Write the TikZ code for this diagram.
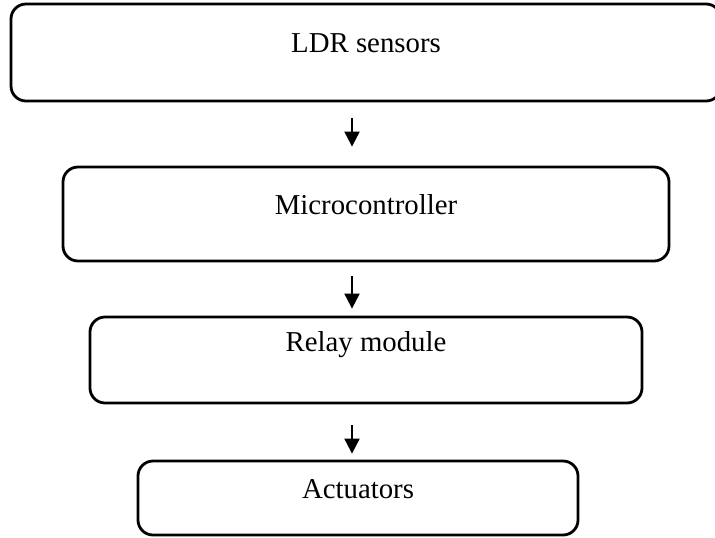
\documentclass[tikz,border=0pt]{standalone}
\usepackage{fontspec}
\setmainfont{Liberation Serif}
\usetikzlibrary{positioning}
\usetikzlibrary{arrows.meta}
\tikzstyle{block} = [rectangle, rounded corners=7.5pt, line width=1.4pt, text centered, draw=black, font=\fontsize{14.4}{17}\selectfont, text height=10pt, text depth=10pt]
\tikzstyle{arrow} = [line width=1pt,-{Triangle[width=7.5pt,length=7.5pt]}]

\begin{document}
\begin{tikzpicture}
    \useasboundingbox (0,0) rectangle (357.5pt,-268.5pt);

    % Nodes
    \node (ldr) [block, minimum width=355pt, minimum height=48.5pt] at (183pt,-26.25pt) {LDR sensors};
    \node (micro) [block, minimum width=303pt, minimum height=47pt, below=31.6pt of ldr] {Microcontroller};
    \node (relay) [block, minimum width=276pt, minimum height=43pt, text depth=19pt, below=26.6pt of micro] {Relay module};
    \node (act) [block, minimum width=220pt, minimum height=37pt, below=27.6pt of relay, xshift=-4pt] {Actuators};
    \coordinate (ax) at (176pt,0);

    % Arrows
    \draw [arrow, shorten <=8pt, shorten >=9.5pt] (ldr.south -| ax) -- (micro.north -| ax);
    \draw [arrow, shorten <=7pt, shorten >=3.5pt] (micro.south -| ax) -- (relay.north -| ax);
    \draw [arrow, shorten <=10.5pt, shorten >=3pt] (relay.south -| ax) -- (act.north -| ax);

\end{tikzpicture}
\end{document}
